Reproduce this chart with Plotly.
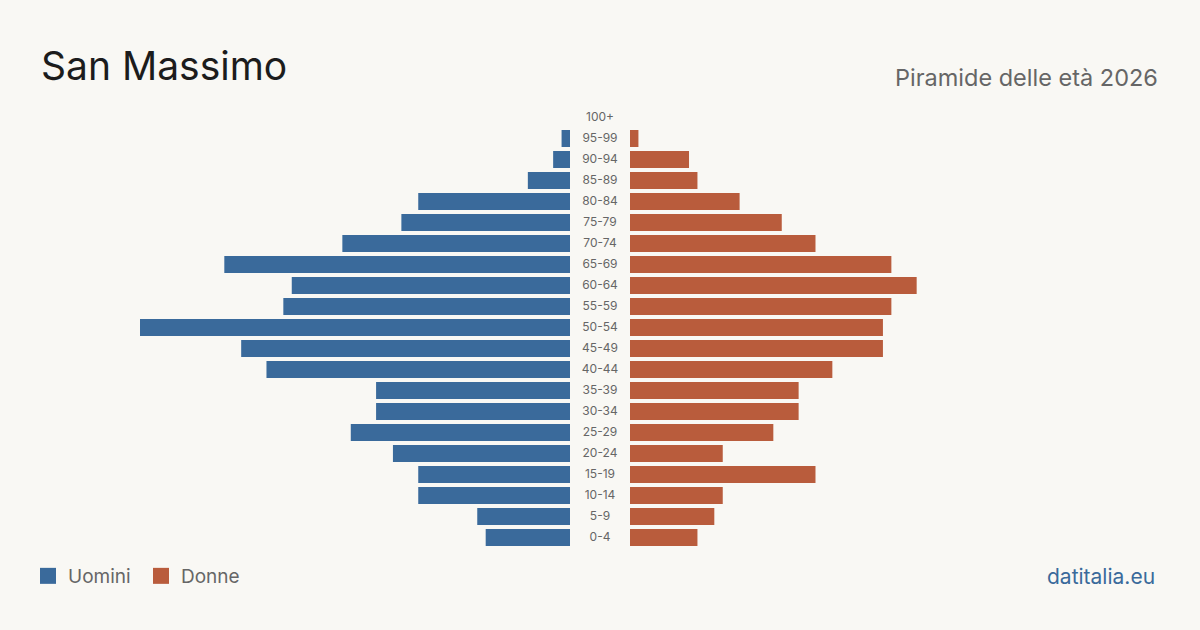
import plotly.graph_objects as go

age_groups = ["0-4", "5-9", "10-14", "15-19", "20-24", "25-29", "30-34", "35-39",
              "40-44", "45-49", "50-54", "55-59", "60-64", "65-69", "70-74",
              "75-79", "80-84", "85-89", "90-94", "95-99", "100+"]
men = [10, 11, 18, 18, 21, 26, 23, 23, 36, 39, 51, 34, 33, 41, 27, 20, 18, 5, 2, 1, 0]
women = [8, 10, 11, 22, 11, 17, 20, 20, 24, 30, 30, 31, 34, 31, 22, 18, 13, 8, 7, 1, 0]
series_names = ["Uomini", "Donne"]

BLUE = "#3a6a9b"
ORANGE = "#b95c3c"
BG = "#f9f8f4"
GREY = "#666666"
FONT = "Inter, Liberation Sans, sans-serif"
W, H = 1200, 630
xmax = 51

fig = go.Figure()
fig.add_trace(go.Bar(y=age_groups, x=men, orientation="h", name=series_names[0],
                     marker=dict(color=BLUE, line=dict(width=0)), showlegend=False,
                     xaxis="x", yaxis="y", hoverinfo="x+y"))
fig.add_trace(go.Bar(y=age_groups, x=women, orientation="h", name=series_names[1],
                     marker=dict(color=ORANGE, line=dict(width=0)), showlegend=False,
                     xaxis="x2", yaxis="y", hoverinfo="x+y"))
fig.add_trace(go.Scatter(y=age_groups, x=[0] * len(age_groups), mode="text",
                         text=age_groups, textposition="middle center",
                         textfont=dict(size=12, color=GREY, family=FONT),
                         xaxis="x3", yaxis="y", showlegend=False, hoverinfo="skip"))
# legend entries with larger square swatches
for nm, col in zip(series_names, [BLUE, ORANGE]):
    fig.add_trace(go.Scatter(x=[None], y=[None], mode="markers", name=nm,
                             marker=dict(symbol="square", size=16, color=col),
                             xaxis="x3", yaxis="y", hoverinfo="skip"))

y0 = (H - 548) / H
y1 = (H - 107) / H

fig.update_layout(
    width=W, height=H,
    margin=dict(l=0, r=0, t=0, b=0),
    paper_bgcolor=BG, plot_bgcolor=BG,
    bargap=0.19,
    font=dict(family=FONT, color=GREY),
    xaxis=dict(domain=[140 / W, 570 / W], range=[xmax, 0], visible=False, fixedrange=True),
    xaxis2=dict(domain=[630 / W, 1060 / W], range=[0, xmax], visible=False, anchor="y", fixedrange=True),
    xaxis3=dict(domain=[570 / W, 630 / W], range=[-1, 1], visible=False, anchor="y", fixedrange=True),
    yaxis=dict(domain=[y0, y1], type="category", categoryorder="array",
               categoryarray=age_groups, range=[-0.5, len(age_groups) - 0.5],
               visible=False, fixedrange=True),
    showlegend=True,
    legend=dict(orientation="h", x=28 / W, y=(H - 576) / H, xanchor="left", yanchor="middle",
                font=dict(size=19, color=GREY, family=FONT), bgcolor="rgba(0,0,0,0)",
                itemclick=False, itemdoubleclick=False, itemwidth=30, entrywidth=68),
    annotations=[
        dict(text="San Massimo", x=39 / W, y=(H - 66) / H, xref="paper", yref="paper",
             xanchor="left", yanchor="middle", showarrow=False,
             font=dict(size=39, color="#1c1c1c", family=FONT)),
        dict(text="Piramide delle età 2026", x=1160 / W, y=(H - 77) / H, xref="paper", yref="paper",
             xanchor="right", yanchor="middle", showarrow=False,
             font=dict(size=23.5, color=GREY, family=FONT)),
        dict(text="datitalia.eu", x=1157 / W, y=(H - 576) / H, xref="paper", yref="paper",
             xanchor="right", yanchor="middle", showarrow=False,
             font=dict(size=21, color=BLUE, family=FONT)),
    ],
)

fig.write_html("out.html")
